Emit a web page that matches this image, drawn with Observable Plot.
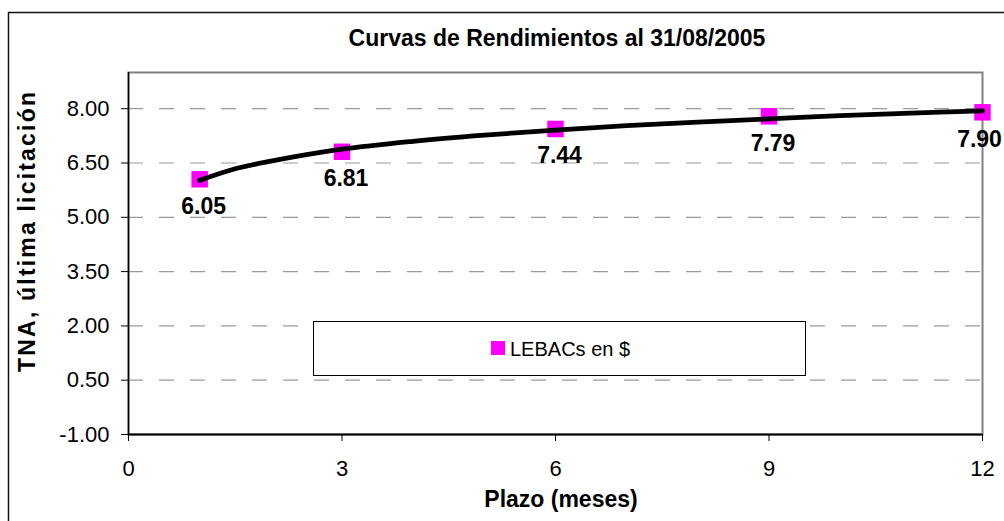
<!DOCTYPE html>
<html>
<head>
<meta charset="utf-8">
<script src="https://cdn.jsdelivr.net/npm/d3@7"></script>
<script src="https://cdn.jsdelivr.net/npm/@observablehq/plot@0.6"></script>
<style>
  html, body { margin: 0; padding: 0; background: #fff; }
  svg { display: block; }
</style>
</head>
<body>
<div id="chart"></div>
<script>
// ---- data ----
const months = [1, 3, 6, 9, 12];
const tna = [6.05, 6.81, 7.44, 7.79, 7.90];
const pointLabels = ["6.05", "6.81", "7.44", "7.79", "7.90"];
// trend line (logarithmic trendline as drawn)
const trendX = [1, 1.5, 2, 3, 4, 5, 6, 7, 8, 9, 10, 11, 12];
const trendY = [6.02, 6.34, 6.55, 6.88, 7.10, 7.27, 7.41, 7.53, 7.63, 7.72, 7.81, 7.88, 7.94];
const yTicks = [-1, 0.5, 2, 3.5, 5, 6.5, 8];
const gridTicks = [0.5, 2, 3.5, 5, 6.5, 8];
const xTicks = [0, 3, 6, 9, 12];
const titleText = "Curvas de Rendimientos al 31/08/2005";
const xLabel = "Plazo (meses)";
const yLabel = "TNA, última licitación";
const seriesName = "LEBACs en $";

const points = months.map((m, i) => ({m, v: tna[i], label: pointLabels[i]}));
const trend = trendX.map((x, i) => ({x, y: trendY[i]}));
const innerPoints = points.slice(0, -1);
const lastPoint = points.slice(-1);

const FONT = "'Liberation Sans', Arial, Helvetica, sans-serif";
const MAGENTA = "#FF00FF";

const chart = Plot.plot({
  width: 1004,
  height: 521,
  marginLeft: 128,
  marginRight: 22,
  marginTop: 72,
  marginBottom: 87,
  style: {fontFamily: FONT, background: "#fff", color: "#000"},
  x: {domain: [0, 12]},
  y: {domain: [-1, 9]},
  marks: [
    Plot.ruleY(gridTicks, {stroke: "#9a9a9a", strokeWidth: 1.2, strokeDasharray: "15,16"}),
    Plot.frame({stroke: "#808080", strokeWidth: 2}),
    Plot.ruleY([-1], {stroke: "#000", strokeWidth: 2}),
    Plot.ruleX([0], {stroke: "#000", strokeWidth: 1.5}),
    Plot.axisY({ticks: yTicks, tickSize: 7, tickPadding: 12, fontSize: 22, label: null,
      tickFormat: d => d.toFixed(2), stroke: "#000"}),
    Plot.axisX({ticks: xTicks, tickSize: 7, tickPadding: 19, fontSize: 22, label: null,
      tickFormat: d => String(d), stroke: "#000"}),
    Plot.dot(points, {x: "m", y: "v", symbol: "square", r: 9.3, fill: MAGENTA, stroke: "none"}),
    Plot.line(trend, {x: "x", y: "y", curve: "catmull-rom", stroke: "#000", strokeWidth: 4.8, strokeLinecap: "round"}),
    Plot.text(innerPoints, {x: "m", y: "v", text: "label", dx: 4, dy: 27, fontSize: 23, fontWeight: "bold", fill: "#000"}),
    Plot.text(lastPoint, {x: "m", y: "v", text: "label", dx: -3, dy: 27, fontSize: 23, fontWeight: "bold", fill: "#000"})
  ]
});

document.getElementById("chart").appendChild(chart);

// ---- layout decorations (title, axis titles, legend, outer border) ----
const svg = d3.select(chart);

svg.append("rect")
  .attr("x", 8.5).attr("y", 12.5).attr("width", 1010).attr("height", 520)
  .attr("fill", "none").attr("stroke", "#111").attr("stroke-width", 1.5);

svg.append("text")
  .attr("x", 557).attr("y", 46)
  .attr("text-anchor", "middle")
  .attr("font-family", FONT).attr("font-size", 23).attr("font-weight", "bold")
  .attr("fill", "#000")
  .text(titleText);

svg.append("text")
  .attr("x", 561).attr("y", 507)
  .attr("text-anchor", "middle")
  .attr("font-family", FONT).attr("font-size", 23).attr("font-weight", "bold")
  .attr("fill", "#000")
  .text(xLabel);

svg.append("text")
  .attr("transform", "translate(35,232) rotate(-90)")
  .attr("text-anchor", "middle")
  .attr("font-family", FONT).attr("font-size", 23).attr("font-weight", "bold")
  .attr("fill", "#000")
  .attr("textLength", 280).attr("lengthAdjust", "spacing")
  .text(yLabel);

const lg = svg.append("g");
lg.append("rect")
  .attr("x", 313.5).attr("y", 321.5).attr("width", 492).attr("height", 54)
  .attr("fill", "#fff").attr("stroke", "#000").attr("stroke-width", 1);
lg.append("rect")
  .attr("x", 491).attr("y", 341).attr("width", 14).attr("height", 14)
  .attr("fill", MAGENTA);
lg.append("text")
  .attr("x", 510).attr("y", 355.5)
  .attr("text-anchor", "start")
  .attr("font-family", FONT).attr("font-size", 20)
  .attr("fill", "#000")
  .text(seriesName);
</script>
</body>
</html>
